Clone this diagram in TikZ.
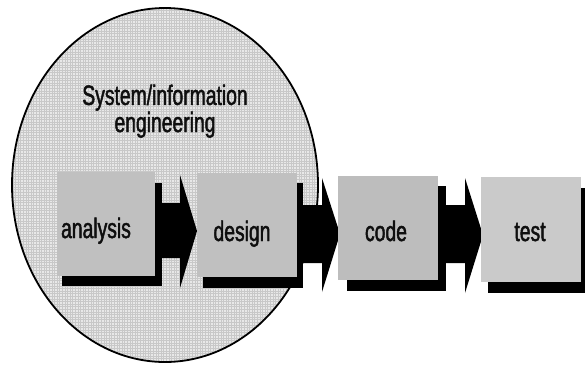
\documentclass[tikz,border=0pt]{standalone}
\usepackage{fontspec}
\setmainfont{Liberation Sans}
\newfontfamily\narrowfont[FakeStretch=0.69,FakeBold=1.6]{Liberation Sans}
\begin{document}
\begin{tikzpicture}[x=1pt,y=-1pt,
  stagebox/.style={fill=boxgray,draw=none},
  shadowbox/.style={fill=black,draw=none},
  blockarrow/.style={fill=black,draw=none},
  lbl/.style={font=\narrowfont\fontsize{28}{28}\selectfont,text=textdark,anchor=base,inner sep=0pt},
  ttl/.style={font=\narrowfont\fontsize{28}{25}\selectfont,text=textdark,anchor=base,inner sep=0pt,align=center}]
\definecolor{boxgray}{RGB}{192,192,192}
\definecolor{codegray}{RGB}{189,189,189}
\definecolor{testgray}{RGB}{202,202,202}
\definecolor{textdark}{RGB}{15,15,15}
\definecolor{dotgray}{RGB}{200,200,200}
\definecolor{dotbg}{RGB}{232,232,232}
\useasboundingbox (0,0) rectangle (585,365);
\clip (0,0) rectangle (585,365);
% ellipse
\begin{scope}
  \clip (165,185) ellipse [x radius=153, y radius=177];
  \fill[dotbg] (0,0) rectangle (330,370);
  \draw[dotgray,line width=0.8pt,step=2.6pt] (0,0) grid (330,370);
\end{scope}
\draw[line width=1.8pt] (165,185) ellipse [x radius=153, y radius=177];
\node[ttl] (title) at (165,132) {System/information\\engineering};
% shadows
\fill[shadowbox] (62,183) rectangle (162,286);
\fill[shadowbox] (203,183) rectangle (303,288);
\fill[shadowbox] (347,186) rectangle (446,291);
\fill[shadowbox] (488,188) rectangle (592,293);
% arrows
\fill[blockarrow] (161,203) -- (180,203) -- (180,175) -- (197,231) -- (180,288) -- (180,258) -- (161,258) -- cycle;
\fill[blockarrow] (302,205) -- (322,205) -- (322,178) -- (340,234) -- (322,292) -- (322,263) -- (302,263) -- cycle;
\fill[blockarrow] (445,205) -- (465,205) -- (465,178) -- (483,235) -- (465,293) -- (465,263) -- (445,263) -- cycle;
% boxes
\fill[stagebox] (57,172) rectangle (155,276);
\fill[stagebox] (197,173) rectangle (297,277);
\fill[stagebox,fill=codegray] (338,176) rectangle (438,280);
\fill[stagebox,fill=testgray] (481,177) rectangle (581,282);
\node[lbl] (analysis) at (96,238) {analysis};
\node[lbl] (design) at (242,241) {design};
\node[lbl] (code) at (386,241) {code};
\node[lbl] (test) at (530,241) {test};
\end{tikzpicture}
\end{document}
